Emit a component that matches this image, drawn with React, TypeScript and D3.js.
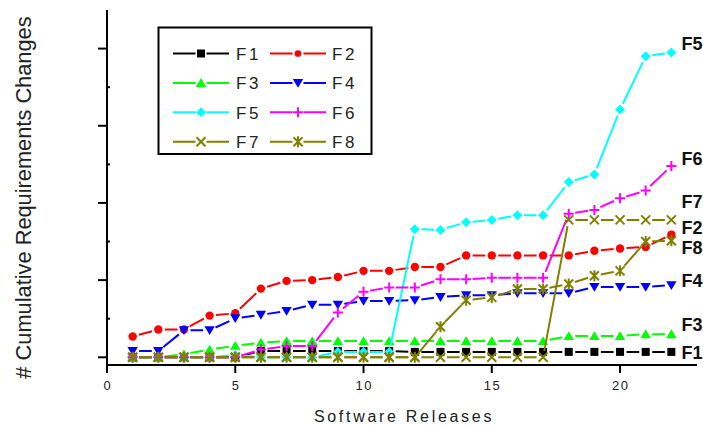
import React from "react";
import * as d3 from "d3";

const releases = [1, 2, 3, 4, 5, 6, 7, 8, 9, 10, 11, 12, 13, 14, 15, 16, 17, 18, 19, 20, 21, 22];
const seriesNames = ["F1", "F2", "F3", "F4", "F5", "F6", "F7", "F8"];

const F1 = [0, 0, 0, 0, 0, 0.8, 0.8, 0.8, 0.8, 0.8, 0.8, 0.7, 0.7, 0.7, 0.7, 0.7, 0.7, 0.7, 0.7, 0.7, 0.7, 0.7];
const F2 = [2.7, 3.6, 3.6, 5.4, 5.7, 8.9, 9.9, 10.0, 10.4, 11.2, 11.2, 11.7, 11.7, 13.2, 13.2, 13.2, 13.2, 13.2, 13.8, 14.1, 14.3, 15.9];
const F3 = [0, 0, 0.4, 1.0, 1.5, 1.9, 2.1, 2.1, 2.1, 2.1, 2.1, 2.1, 2.1, 2.1, 2.1, 2.1, 2.1, 2.75, 2.75, 2.75, 3.0, 3.0];
const F4 = [0.8, 0.8, 3.5, 3.5, 5.05, 5.5, 6.0, 6.8, 6.8, 7.3, 7.3, 7.4, 7.8, 8.05, 8.05, 8.3, 8.3, 8.3, 9.1, 9.1, 9.1, 9.35];
const F5 = [0, 0, 0, 0, 0.3, 0, 0, 0, 0.7, 0.7, 0.7, 16.6, 16.5, 17.5, 17.8, 18.4, 18.4, 22.7, 23.7, 32.1, 39.0, 39.5];
const F6 = [0, 0, 0, 0, 0, 1.0, 1.45, 1.45, 5.8, 8.5, 9.05, 9.05, 10.1, 10.1, 10.3, 10.3, 10.3, 18.6, 19.1, 20.6, 21.6, 24.8];
const F7 = [0, 0, 0, 0, 0, 0, 0, 0, 0, 0, 0, 0, 0, 0, 0, 0, 0, 17.8, 17.8, 17.8, 17.8, 17.8];
const F8 = [0, 0, 0, 0, 0, 0, 0, 0, 0, 0, 0, 0, 3.96, 7.4, 7.76, 8.84, 8.84, 9.5, 10.56, 11.2, 15.0, 15.1];

const seriesValues = [F1, F2, F3, F4, F5, F6, F7, F8];
const endLabelValues = [0.6, 16.85, 4.2, 10.0, 40.6, 25.7, 20.2, 14.25];

const xTicks = [0, 5, 10, 15, 20];
const yMajorTicks = [0, 10, 20, 30, 40];
const yMinorTicks = [5, 15, 25, 35];

const colors = ["#000000", "#ff0000", "#00ff00", "#0000ff", "#00ffff", "#ff00ff", "#808000", "#808000"];
const symbols = ["square", "circle", "triUp", "triDown", "diamond", "plus", "x", "asterisk"];

const W = 703;
const H = 427;
const FONT = "'Liberation Sans', Arial, Helvetica, sans-serif";

function Marker({ kind, cx, cy, color, s = 1 }: { kind: string; cx: number; cy: number; color: string; s?: number }) {
  const k = s;
  switch (kind) {
    case "square":
      return <rect x={cx - 4 * k} y={cy - 4 * k} width={8 * k} height={8 * k} fill={color} />;
    case "circle":
      return <circle cx={cx} cy={cy} r={4.2 * k} fill={color} />;
    case "triUp":
      return <path d={`M${cx},${cy - 4.8 * k}L${cx + 5.2 * k},${cy + 4 * k}L${cx - 5.2 * k},${cy + 4 * k}Z`} fill={color} />;
    case "triDown":
      return <path d={`M${cx},${cy + 4.8 * k}L${cx + 5.2 * k},${cy - 4 * k}L${cx - 5.2 * k},${cy - 4 * k}Z`} fill={color} />;
    case "diamond":
      return <path d={`M${cx},${cy - 5 * k}L${cx + 5 * k},${cy}L${cx},${cy + 5 * k}L${cx - 5 * k},${cy}Z`} fill={color} />;
    case "plus":
      return <path d={`M${cx - 5 * k},${cy}h${10 * k}M${cx},${cy - 5 * k}v${10 * k}`} stroke={color} strokeWidth={2} fill="none" />;
    case "x":
      return <path d={`M${cx - 4.5 * k},${cy - 4.5 * k}l${9 * k},${9 * k}M${cx - 4.5 * k},${cy + 4.5 * k}l${9 * k},${-9 * k}`} stroke={color} strokeWidth={2} fill="none" />;
    case "asterisk":
      return (
        <path
          d={`M${cx - 4.5 * k},${cy - 4.5 * k}l${9 * k},${9 * k}M${cx - 4.5 * k},${cy + 4.5 * k}l${9 * k},${-9 * k}M${cx},${cy - 5.5 * k}v${11 * k}`}
          stroke={color}
          strokeWidth={2}
          fill="none"
        />
      );
    default:
      return null;
  }
}

function gapped(pts: [number, number][], gap: number): string {
  let d = "";
  for (let i = 0; i < pts.length - 1; i++) {
    const [x0, y0] = pts[i];
    const [x1, y1] = pts[i + 1];
    const dx = x1 - x0;
    const dy = y1 - y0;
    const len = Math.hypot(dx, dy);
    if (len <= 2 * gap) continue;
    const ux = dx / len;
    const uy = dy / len;
    d += `M${x0 + ux * gap},${y0 + uy * gap}L${x1 - ux * gap},${y1 - uy * gap}`;
  }
  return d;
}

export default function App() {
  const x = d3.scaleLinear().domain([0, 23]).range([107, 697]);
  const y = d3.scaleLinear().domain([-1, 45]).range([365, 10]);

  const legendRows = [
    [0, 1],
    [2, 3],
    [4, 5],
    [6, 7],
  ];

  return (
    <div style={{ position: "fixed", left: 0, top: 0 }}>
      <svg width={W} height={H} style={{ display: "block", background: "#fff" }} fontFamily={FONT}>
        <rect x={0} y={0} width={W} height={H} fill="#fff" />
        {/* series */}
        {seriesValues.map((vals, si) => {
          const pts: [number, number][] = vals.map((v, i) => [x(releases[i]), y(v)]);
          return (
            <g key={seriesNames[si]}>
              <path d={gapped(pts, 6.5)} stroke={colors[si]} strokeWidth={2} fill="none" />
              {pts.map((p, i) => (
                <Marker key={i} kind={symbols[si]} cx={p[0]} cy={p[1]} color={colors[si]} />
              ))}
            </g>
          );
        })}

        {/* axes */}
        <line x1={107} x2={107} y1={y(45)} y2={y(-1)} stroke="#000" strokeWidth={2} />
        <line x1={106} x2={x(23)} y1={y(-1)} y2={y(-1)} stroke="#000" strokeWidth={2} />
        {yMajorTicks.map((t) => (
          <line key={"ym" + t} x1={98} x2={107} y1={y(t)} y2={y(t)} stroke="#000" strokeWidth={2} />
        ))}
        {yMinorTicks.map((t) => (
          <line key={"yn" + t} x1={107} x2={110} y1={y(t)} y2={y(t)} stroke="#000" strokeWidth={2} />
        ))}
        {xTicks.map((t) => (
          <g key={"x" + t}>
            <line x1={x(t)} x2={x(t)} y1={365} y2={373} stroke="#000" strokeWidth={2} />
            <text x={x(t) + 0.75} y={390} fontSize={13} letterSpacing={1.5} textAnchor="middle" fill="#222">
              {t}
            </text>
          </g>
        ))}

        {/* axis titles */}
        <text x={404} y={421.5} fontSize={16} letterSpacing={2.7} textAnchor="middle" fill="#222">
          Software Releases
        </text>
        <text transform={`translate(31,197.5) rotate(-90)`} fontSize={21.8} textAnchor="middle" fill="#222">
          # Cumulative Requirements Changes
        </text>

        {/* end labels */}
        {endLabelValues.map((v, si) => (
          <text key={"el" + si} x={681.5} y={y(v)} dy="0.36em" fontSize={18} fontWeight="bold" fill="#111">
            {seriesNames[si]}
          </text>
        ))}

        {/* legend */}
        <rect x={158.5} y={27.5} width={213} height={126.5} fill="#fff" stroke="#000" strokeWidth={2} />
        {legendRows.map((row, ri) =>
          row.map((si, ci) => {
            const cy = 53.5 + ri * 29.4;
            const lx0 = ci === 0 ? 173 : 270;
            const lx1 = ci === 0 ? 229 : 326;
            const mx = (lx0 + lx1) / 2;
            const tx = ci === 0 ? 236 : 332;
            return (
              <g key={"lg" + si}>
                <path d={`M${lx0},${cy}H${mx - 5.5}M${mx + 5.5},${cy}H${lx1}`} stroke={colors[si]} strokeWidth={2} />
                <Marker kind={symbols[si]} cx={mx} cy={cy} color={colors[si]} s={symbols[si] === "circle" ? 0.8 : 1} />
                <text x={tx} y={cy + 6.2} fontSize={17} letterSpacing={2.5} fill="#222">
                  {seriesNames[si]}
                </text>
              </g>
            );
          })
        )}
      </svg>
    </div>
  );
}
